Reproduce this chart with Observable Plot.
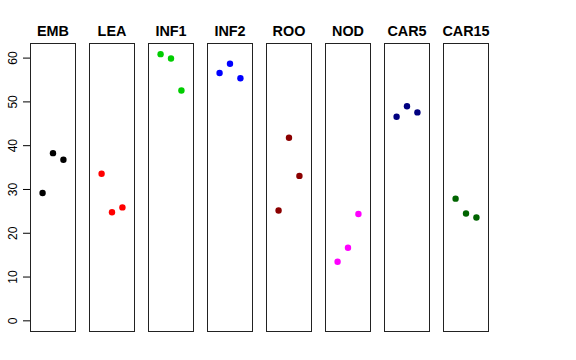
<!DOCTYPE html>
<html>
<head>
<meta charset="utf-8">
<script src="https://cdn.jsdelivr.net/npm/d3@7"></script>
<script src="https://cdn.jsdelivr.net/npm/@observablehq/plot@0.6"></script>
<style>
html, body { margin: 0; padding: 0; background: #fff; }
</style>
</head>
<body>
<div id="chart"></div>
<script>
const panels = ["EMB", "LEA", "INF1", "INF2", "ROO", "NOD", "CAR5", "CAR15"];
const colors = ["#000000", "#FF0000", "#00CD00", "#0000FF", "#8B0000", "#FF00FF", "#000080", "#006400"];
const replicate = [1, 2, 3];
const EMB = [29.2, 38.3, 36.8];
const LEA = [33.6, 24.8, 25.9];
const INF1 = [60.9, 59.9, 52.6];
const INF2 = [56.6, 58.7, 55.4];
const ROO = [25.2, 41.8, 33.1];
const NOD = [13.5, 16.7, 24.4];
const CAR5 = [46.6, 49.0, 47.6];
const CAR15 = [27.9, 24.5, 23.6];
const yTicks = [0, 10, 20, 30, 40, 50, 60];

const series = {EMB, LEA, INF1, INF2, ROO, NOD, CAR5, CAR15};
const rows = [];
panels.forEach(p => series[p].forEach((v, i) => rows.push({panel: p, rep: replicate[i], value: v})));

const yMin = 0, yMax = d3.max(rows, d => d.value);
const yPad = (yMax - yMin) * 0.04;

const chart = Plot.plot({
  width: 576,
  height: 360,
  marginLeft: 29,
  marginRight: 88,
  marginTop: 43,
  marginBottom: 29,
  style: {fontFamily: "Liberation Sans, Arial, sans-serif", background: "#fff"},
  fx: {domain: panels, paddingInner: 0.245, paddingOuter: 0},
  x: {domain: [-0.16, 4.16], axis: null},
  y: {domain: [yMin - yPad, yMax + yPad]},
  color: {domain: panels, range: colors},
  marks: [
    Plot.frame({stroke: "#222", strokeWidth: 1}),
    Plot.axisFx({anchor: "top", tickSize: 0, tickPadding: 8, fontSize: 14.4, fontWeight: "bold", label: null, fill: "#000"}),
    Plot.axisY({ticks: yTicks, tickSize: 7, tickPadding: 7, tickRotate: -90, fontSize: 12, label: null, stroke: "#000", fill: "#000"}),
    Plot.dot(rows, {fx: "panel", x: "rep", y: "value", fill: "panel", r: 3.2, stroke: null})
  ]
});
document.getElementById("chart").appendChild(chart);
</script>
</body>
</html>
